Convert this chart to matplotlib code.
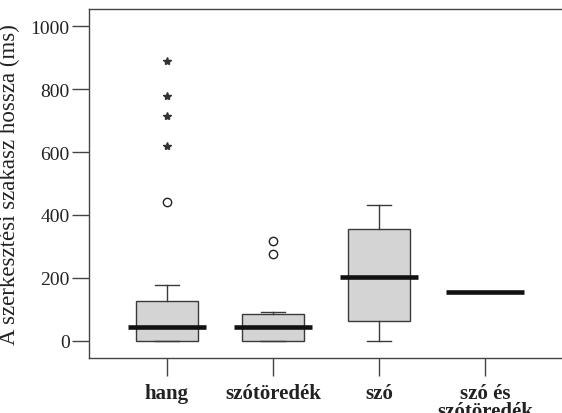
import matplotlib
matplotlib.use("Agg")
import matplotlib.pyplot as plt

categories = ["hang", "szótöredék", "szó", "szó és\nszótöredék"]
q1 = [0, 0, 62, 157]
median = [45, 45, 204, 157]
q3 = [127, 86, 357, 157]
whislo = [0, 0, 1, 157]
whishi = [178, 91, 433, 157]
circle_cat = [0, 1, 1]
circle_val = [442, 316, 275]
star_cat = [0, 0, 0, 0]
star_val = [888, 778, 713, 620]
yticks = [0, 200, 400, 600, 800, 1000]

plt.rcParams['font.family'] = ['Liberation Serif', 'DejaVu Serif']

fig = plt.figure(figsize=(5.62, 4.14), dpi=100)
ax = fig.add_axes([89/562, 1 - 359/414, 1 - 89/562 + 0.002, (359 - 10)/414])

positions = list(range(len(categories)))
stats = []
for i in positions:
    stats.append(dict(med=median[i], q1=q1[i], q3=q3[i],
                      whislo=whislo[i], whishi=whishi[i], fliers=[]))

edge = "#3a3a3a"
ax.bxp(stats, positions=positions, widths=0.59, patch_artist=True,
       showfliers=False, capwidths=0.23,
       boxprops=dict(facecolor="#d4d4d4", edgecolor=edge, linewidth=1.0),
       whiskerprops=dict(color=edge, linewidth=1.0),
       capprops=dict(color=edge, linewidth=1.0),
       medianprops=dict(linewidth=0))
ax.hlines(median, [p - 0.37 for p in positions], [p + 0.37 for p in positions],
          colors="#111111", linewidth=3.3, zorder=5)

ax.plot(circle_cat, circle_val, linestyle="none", marker="o", markersize=6,
        markerfacecolor="white", markeredgecolor="#222222", markeredgewidth=1.0)
ax.plot(star_cat, star_val, linestyle="none", marker="*", markersize=6,
        color="#333333")

ax.set_xlim(-0.735, 3.735)
ax.set_ylim(-54, 1054)
ax.set_yticks(yticks)
ax.set_yticklabels([str(v) for v in yticks], fontsize=14, color="#222222")
ax.set_xticks(positions)
ax.set_xticklabels(categories, fontsize=15, fontweight="bold", color="#222222",
                   linespacing=0.85, va="top")
ax.tick_params(axis="y", length=12, width=1.0, color="#444444", pad=2)
ax.tick_params(axis="x", length=13, width=1.0, color="#444444", pad=5)
ax.spines["right"].set_visible(False)
for s in ["left", "top", "bottom"]:
    ax.spines[s].set_color("#444444")
    ax.spines[s].set_linewidth(1.0)
ax.set_ylabel("A szerkesztési szakasz hossza (ms)", fontsize=16.5, color="#222222")
ax.yaxis.set_label_coords(-69/473, 0.5)

fig.savefig("out.png", dpi=100)
